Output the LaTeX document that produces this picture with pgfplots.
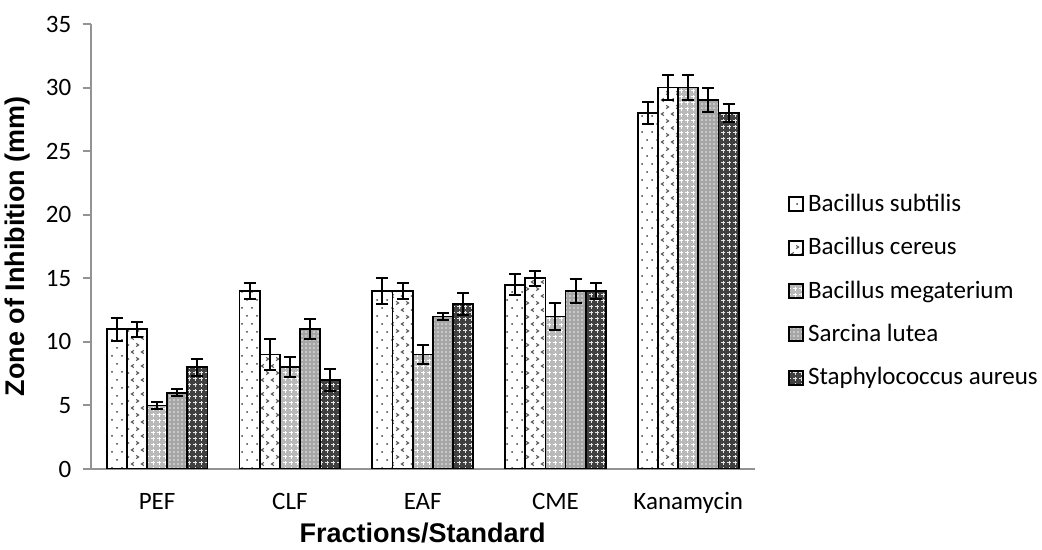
\documentclass[border=0pt]{standalone}
\usepackage{fontspec}
\setmainfont{Carlito}
\newfontfamily\arialfont{Liberation Sans}
\usepackage{pgfplots}
\usepackage{pgfplotstable}
\pgfplotsset{compat=1.18}
\usetikzlibrary{patterns}

% --- fill patterns for the five organisms ---
\pgfdeclarepatternformonly{sparsedots}{\pgfqpoint{-1pt}{-1pt}}{\pgfqpoint{6pt}{9pt}}{\pgfqpoint{5pt}{8pt}}{%
  \pgfpathcircle{\pgfqpoint{1pt}{1pt}}{0.5pt}%
  \pgfpathcircle{\pgfqpoint{3.5pt}{5pt}}{0.5pt}%
  \pgfusepath{fill}}
\pgfdeclarepatternformonly{chevrons}{\pgfqpoint{-1pt}{-1pt}}{\pgfqpoint{6pt}{8pt}}{\pgfqpoint{5pt}{7pt}}{%
  \pgfsetlinewidth{0.55pt}%
  \pgfpathmoveto{\pgfqpoint{1.9pt}{0.2pt}}\pgfpathlineto{\pgfqpoint{0.7pt}{1pt}}\pgfpathlineto{\pgfqpoint{1.9pt}{1.8pt}}%
  \pgfpathmoveto{\pgfqpoint{3.1pt}{3.7pt}}\pgfpathlineto{\pgfqpoint{4.3pt}{4.5pt}}\pgfpathlineto{\pgfqpoint{3.1pt}{5.3pt}}%
  \pgfusepath{stroke}}
\pgfdeclarepatternformonly{pluses}{\pgfqpoint{-0.5pt}{-0.5pt}}{\pgfqpoint{3.5pt}{3.5pt}}{\pgfqpoint{3pt}{3pt}}{%
  \pgfsetlinewidth{0.5pt}%
  \pgfpathmoveto{\pgfqpoint{0.7pt}{1.5pt}}\pgfpathlineto{\pgfqpoint{2.3pt}{1.5pt}}%
  \pgfpathmoveto{\pgfqpoint{1.5pt}{0.7pt}}\pgfpathlineto{\pgfqpoint{1.5pt}{2.3pt}}%
  \pgfusepath{stroke}}
\pgfdeclarepatternformonly{finedots}{\pgfqpoint{-0.5pt}{-0.5pt}}{\pgfqpoint{2.5pt}{2.5pt}}{\pgfqpoint{2pt}{2pt}}{%
  \pgfpathcircle{\pgfqpoint{1pt}{1pt}}{0.45pt}%
  \pgfusepath{fill}}

% --- zone of inhibition (mm): x, mean, error ---
\pgfplotstableread{
x y e
0 11   0.9
1 14   0.65
2 14   1.0
3 14.5 0.85
4 28   0.9
}\bsubtilis
\pgfplotstableread{
x y e
0 11 0.6
1 9  1.2
2 14 0.63
3 15 0.58
4 30 0.97
}\bcereus
\pgfplotstableread{
x y e
0 5  0.27
1 8  0.8
2 9  0.75
3 12 1.04
4 30 1.0
}\bmegaterium
\pgfplotstableread{
x y e
0 6  0.26
1 11 0.8
2 12 0.3
3 14 0.97
4 29 0.94
}\slutea
\pgfplotstableread{
x y e
0 8  0.66
1 7  0.9
2 13 0.85
3 14 0.6
4 28 0.7
}\saureus

\pgfplotsset{
  errs/.style={error bars/.cd, y dir=both, y explicit,
    error bar style={line width=1pt, draw=black, solid},
    error mark options={rotate=90, mark size=3pt, line width=1pt, draw=black}},
}

\begin{document}
\begin{tikzpicture}
\begin{axis}[
  scale only axis,
  width=332pt, height=222.5pt,
  ymin=0, ymax=35, ytick={0,5,...,35},
  xmin=-0.5, xmax=4.5,
  xtick={0,...,4},
  xticklabels={PEF,CLF,EAF,CME,Kanamycin},
  ybar=0pt, bar width=0.152,
  axis x line*=bottom, axis y line*=left,
  axis line style={draw=gray!85, line width=1pt},
  tick align=outside,
  x tick style={draw=none},
  y tick style={draw=gray!85, line width=1pt},
  major tick length=4pt,
  tick label style={font=\fontsize{12.5}{15}\selectfont},
  /pgf/number format/assume math mode=true,
  xticklabel style={inner sep=0pt, anchor=base, yshift=-16pt},
  yticklabel style={inner sep=0pt, anchor=east, xshift=-5.5pt},
  ylabel={Zone of Inhibition (mm)},
  xlabel={Fractions/Standard},
  label style={font=\fontsize{13.5}{16}\selectfont\arialfont\bfseries},
  ylabel style={at={(axis description cs:-0.0914,0.5)}, anchor=south, inner sep=0pt},
  xlabel style={at={(axis description cs:0.5,0)}, anchor=north, inner sep=0pt, yshift=-27pt},
  legend cell align=left,
  legend style={at={(1.05,0.40)}, anchor=west, draw=none, fill=none,
    inner sep=0pt, row sep=7.5pt, font=\fontsize{12.5}{15}\selectfont,
    /tikz/every even column/.append style={column sep=3pt}},
  legend image code/.code={\draw[#1] (0pt,-3.5pt) rectangle (7pt,3.5pt);},
  every axis plot/.append style={draw=black, line width=0.9pt},
]
\addplot[fill=white, postaction={pattern=sparsedots, pattern color=black!75}, errs]
  table[x=x, y=y, y error=e] {\bsubtilis};
\addplot[fill=white, postaction={pattern=chevrons, pattern color=black!65}, errs]
  table[x=x, y=y, y error=e] {\bcereus};
\addplot[fill=gray!55, postaction={pattern=pluses, pattern color=white}, errs]
  table[x=x, y=y, y error=e] {\bmegaterium};
\addplot[fill=gray!70, postaction={pattern=finedots, pattern color=white!85!gray}, errs]
  table[x=x, y=y, y error=e] {\slutea};
\addplot[fill=black!75, postaction={pattern=pluses, pattern color=white!80!gray}, errs]
  table[x=x, y=y, y error=e] {\saureus};
\legend{Bacillus subtilis, Bacillus cereus, Bacillus megaterium, Sarcina lutea, Staphylococcus aureus}
\end{axis}
\path (current axis.south west) ++(-45.35pt,-40.5pt) rectangle ++(521pt,275pt);
\end{tikzpicture}
\end{document}
